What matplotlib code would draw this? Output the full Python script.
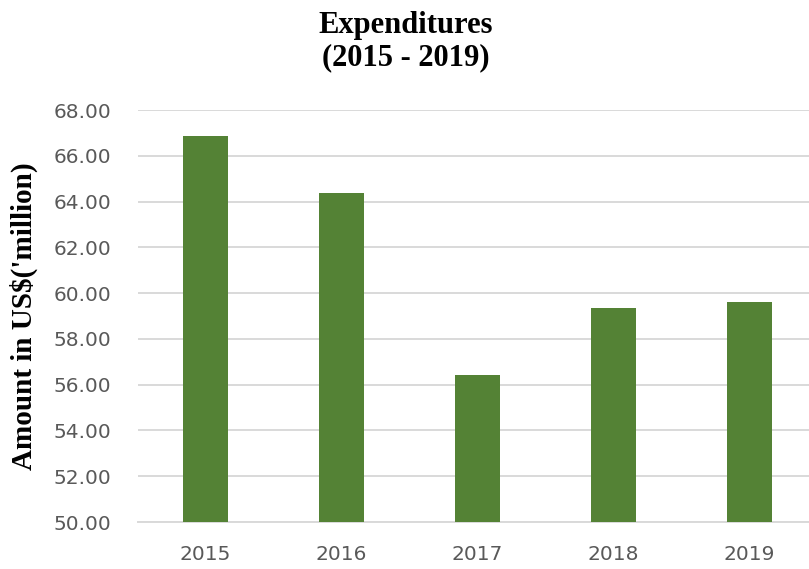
import matplotlib.pyplot as plt

# data
years = ["2015", "2016", "2017", "2018", "2019"]
expenditures = [66.88, 64.37, 56.43, 59.37, 59.60]
y_ticks = [50, 52, 54, 56, 58, 60, 62, 64, 66, 68]

BAR_COLOR = "#548235"
GRID_COLOR = "#d9d9d9"
TICK_COLOR = "#595959"

fig = plt.figure(figsize=(8.09, 5.69), dpi=100)
ax = fig.add_axes([0.170, 0.0826, 0.840, 0.724])

x = range(len(years))
ax.bar(x, expenditures, width=0.33, color=BAR_COLOR, zorder=3)

ax.set_xlim(-0.5, len(years) - 0.5)
ax.set_ylim(50, 68)
ax.set_yticks(y_ticks)
ax.set_yticklabels([f"{v:.2f}" for v in y_ticks])
ax.set_xticks(list(x))
ax.set_xticklabels(years)

ax.grid(axis="y", color=GRID_COLOR, linewidth=1.4, zorder=0)
for side in ["top", "right", "left"]:
    ax.spines[side].set_visible(False)
ax.spines["bottom"].set_color(GRID_COLOR)
ax.spines["bottom"].set_linewidth(1.4)

ax.tick_params(axis="both", length=0, colors=TICK_COLOR, labelsize=14.5)
ax.tick_params(axis="y", pad=19)
ax.tick_params(axis="x", pad=16.5)

ax.set_ylabel("Amount in US$('million)", fontsize=21, fontweight="bold",
              family="Liberation Serif", labelpad=11)

fig.text(0.502, 0.98, "Expenditures\n(2015 - 2019)", ha="center", va="top",
         fontsize=22, fontweight="bold", family="Liberation Serif", linespacing=1.12)

fig.savefig("out.png", dpi=100)
